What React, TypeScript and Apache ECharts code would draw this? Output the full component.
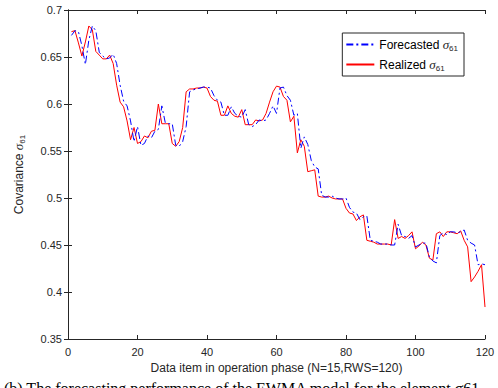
import React, { useEffect, useRef } from "react";
import * as echarts from "echarts";

const xTicks = [0, 20, 40, 60, 80, 100, 120];
const yTicks = [0.35, 0.4, 0.45, 0.5, 0.55, 0.6, 0.65, 0.7];

const realized = [
  0.677, 0.678, 0.665, 0.651, 0.666, 0.683, 0.679, 0.656, 0.652, 0.648,
  0.648, 0.652, 0.643, 0.62, 0.602, 0.597, 0.582, 0.562, 0.575, 0.558,
  0.56, 0.566, 0.564, 0.571, 0.572, 0.6, 0.579, 0.579, 0.579, 0.558,
  0.555, 0.56, 0.575, 0.613, 0.616, 0.616, 0.617, 0.617, 0.618, 0.617,
  0.608, 0.604, 0.603, 0.588, 0.588, 0.598, 0.59, 0.587, 0.586, 0.594,
  0.578, 0.578, 0.578, 0.583, 0.582, 0.583, 0.59, 0.602, 0.613, 0.619,
  0.618, 0.608, 0.604, 0.581, 0.587, 0.548, 0.562, 0.555, 0.528, 0.529,
  0.53, 0.502, 0.501, 0.501, 0.502, 0.5, 0.499, 0.499, 0.499, 0.489,
  0.484, 0.483, 0.476, 0.48, 0.482, 0.455, 0.454, 0.453, 0.451, 0.451,
  0.451, 0.451, 0.45, 0.477, 0.457, 0.459, 0.457, 0.46, 0.464, 0.446,
  0.449, 0.453, 0.45, 0.436, 0.434, 0.462, 0.464, 0.459, 0.464, 0.464,
  0.463, 0.462, 0.465, 0.455, 0.448, 0.411, 0.416, 0.422, 0.429, 0.384,
];

const forecasted = [
  0.673, 0.678, 0.677, 0.662, 0.642, 0.668, 0.683, 0.678, 0.655, 0.651,
  0.648, 0.649, 0.653, 0.643, 0.62, 0.603, 0.598, 0.582, 0.56, 0.576,
  0.556, 0.558, 0.566, 0.564, 0.571, 0.573, 0.598, 0.58, 0.579, 0.579,
  0.556, 0.555, 0.56, 0.576, 0.613, 0.615, 0.616, 0.617, 0.618, 0.618,
  0.617, 0.609, 0.604, 0.602, 0.588, 0.588, 0.597, 0.59, 0.587, 0.586,
  0.594, 0.578, 0.576, 0.578, 0.583, 0.582, 0.583, 0.59, 0.598, 0.59,
  0.617, 0.618, 0.609, 0.604, 0.588, 0.59, 0.553, 0.565, 0.557, 0.54,
  0.533, 0.531, 0.503, 0.501, 0.501, 0.502, 0.5, 0.499, 0.499, 0.5,
  0.49, 0.485, 0.484, 0.477, 0.48, 0.481, 0.455, 0.454, 0.453, 0.451,
  0.451, 0.451, 0.45, 0.45, 0.472, 0.46, 0.459, 0.457, 0.46, 0.448,
  0.45, 0.452, 0.452, 0.437, 0.433, 0.431, 0.46, 0.463, 0.461, 0.464,
  0.464, 0.463, 0.464, 0.466, 0.455, 0.452, 0.45, 0.429, 0.43, 0.429,
];

const seriesNames = ["Forecasted", "Realized"];
const caption = "(b) The forecasting performance of the EWMA model for the element σ61";

const FONT = "'Liberation Sans', Arial, Helvetica, sans-serif";
const AX = "#262626";

export default function App() {
  const ref = useRef<HTMLDivElement>(null);
  useEffect(() => {
    if (!ref.current) return;
    const chart = echarts.init(ref.current, undefined, { renderer: "svg" });
    const toPairs = (arr: number[]) => arr.map((v, i) => [i + 1, v]);
    const fmtY = (v: number) => String(parseFloat(v.toFixed(2)));
    const rich = {
      s: { fontFamily: "'Liberation Serif', 'DejaVu Serif', serif", fontStyle: "italic", fontSize: 13, color: AX },
      sub: { fontSize: 8, color: AX, fontFamily: FONT, padding: [7, 0, 0, 0] },
    };
    const baseX = {
      type: "value",
      min: xTicks[0],
      max: xTicks[xTicks.length - 1],
      interval: 20,
      splitLine: { show: false },
      axisLine: { show: true, lineStyle: { color: AX, width: 1 } },
      axisTick: { show: true, inside: true, length: 4, lineStyle: { color: AX } },
    };
    const baseY = {
      type: "value",
      min: yTicks[0],
      max: yTicks[yTicks.length - 1],
      interval: 0.05,
      splitLine: { show: false },
      axisLine: { show: true, lineStyle: { color: AX, width: 1 } },
      axisTick: { show: true, inside: true, length: 4, lineStyle: { color: AX } },
    };
    chart.setOption({
      animation: false,
      backgroundColor: "#ffffff",
      grid: { left: 68, right: 13, top: 10, bottom: 49, containLabel: false },
      legend: {
        orient: "vertical",
        right: 34,
        top: 33,
        backgroundColor: "#ffffff",
        borderColor: AX,
        borderWidth: 1,
        padding: [5, 6, 4, 3],
        itemGap: 6,
        itemWidth: 28,
        itemHeight: 12,
        itemStyle: { opacity: 0 },
        data: seriesNames,
        formatter: (name: string) => `${name} {s|σ}{sub|61}`,
        textStyle: { fontFamily: FONT, fontSize: 12, color: "#000", rich },
      },
      xAxis: [
        {
          ...baseX,
          position: "bottom",
          name: "Data item in operation phase (N=15,RWS=120)",
          nameLocation: "middle",
          nameGap: 22,
          nameTextStyle: { fontFamily: FONT, fontSize: 12, color: AX },
          axisLabel: { show: true, fontFamily: FONT, fontSize: 11, color: AX, margin: 7 },
        },
        { ...baseX, position: "top", axisLabel: { show: false } },
      ],
      yAxis: [
        {
          ...baseY,
          position: "left",
          name: "Covariance {s|σ}{sub|61}",
          nameLocation: "middle",
          nameGap: 42,
          nameTextStyle: { fontFamily: FONT, fontSize: 12, color: AX, rich },
          axisLabel: { show: true, fontFamily: FONT, fontSize: 11, color: AX, margin: 6, formatter: fmtY },
        },
        { ...baseY, position: "right", axisLabel: { show: false } },
      ],
      graphic: [
        {
          type: "text",
          left: 4,
          top: 380,
          style: {
            text: caption,
            font: "16px 'Liberation Serif', 'DejaVu Serif', serif",
            fill: "#000",
          },
        },
      ],
      series: [
        {
          name: seriesNames[0],
          type: "line",
          data: toPairs(forecasted),
          showSymbol: false,
          symbol: "none",
          z: 3,
          lineStyle: { color: "#0000ff", width: 1, type: [7, 3, 2, 3] },
          itemStyle: { color: "#0000ff" },
        },
        {
          name: seriesNames[1],
          type: "line",
          data: toPairs(realized),
          showSymbol: false,
          symbol: "none",
          z: 2,
          lineStyle: { color: "#ff0000", width: 1, type: "solid" },
          itemStyle: { color: "#ff0000" },
        },
      ],
    });
    return () => chart.dispose();
  }, []);
  return (
    <div
      ref={ref}
      style={{ position: "fixed", left: 0, top: 0, width: 498, height: 388, background: "#fff" }}
    />
  );
}
